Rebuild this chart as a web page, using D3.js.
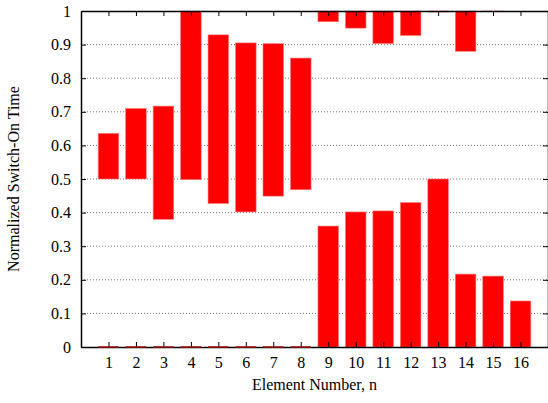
<!DOCTYPE html>
<html>
<head>
<meta charset="utf-8">
<script src="https://d3js.org/d3.v7.min.js"></script>
<style>
  body { margin: 0; background: #fff; }
</style>
</head>
<body>
<script>
// element numbers
var elements = [1, 2, 3, 4, 5, 6, 7, 8, 9, 10, 11, 12, 13, 14, 15, 16];

// lower box of each element (0 -> value)
var lowerTop = [0, 0, 0, 0, 0, 0, 0, 0, 0.36, 0.402, 0.405, 0.43, 0.5, 0.217, 0.211, 0.137];

// upper box of each element (from -> to)
var upperFrom = [0.5, 0.5, 0.38, 0.498, 0.427, 0.402, 0.449, 0.468, 0.968, 0.949, 0.903, 0.927, 0.997, 0.88, 0.998, 1.0];
var upperTo   = [0.636, 0.71, 0.717, 1.0, 0.929, 0.905, 0.903, 0.86, 1, 1, 1, 1, 1, 1, 1, 1];

var yTicks = [0, 0.1, 0.2, 0.3, 0.4, 0.5, 0.6, 0.7, 0.8, 0.9, 1];

var font = "'Liberation Serif', 'Times New Roman', serif";

// set the dimensions and margins of the graph
var margin = {top: 11, right: 0, bottom: 56, left: 81},
    width = 548 - margin.left - margin.right,
    height = 403 - margin.top - margin.bottom;

var svg = d3.select("body")
  .append("svg")
    .attr("width", 548)
    .attr("height", 403)
  .append("g")
    .attr("transform", "translate(" + margin.left + "," + margin.top + ")");

var x = d3.scaleLinear().domain([0, 17]).range([0, width]);
var y = d3.scaleLinear().domain([0, 1]).range([height, 0]);
var bw = x(0.75) - x(0);

// grid
svg.append("g")
  .selectAll("line")
  .data(yTicks.slice(1, -1))
  .enter()
  .append("line")
    .attr("x1", 0)
    .attr("x2", width)
    .attr("y1", d => y(d))
    .attr("y2", d => y(d))
    .attr("stroke", "#777")
    .attr("stroke-width", 1)
    .attr("stroke-dasharray", "1,2");

// boxes
var boxes = [];
elements.forEach(function (e, i) {
  boxes.push({n: e, lo: 0, hi: lowerTop[i]});
  boxes.push({n: e, lo: upperFrom[i], hi: upperTo[i]});
});

svg.selectAll("rect.box")
  .data(boxes.filter(d => d.hi - d.lo > 0))
  .enter()
  .append("rect")
    .attr("class", "box")
    .attr("x", d => x(d.n) - bw / 2)
    .attr("width", bw)
    .attr("y", d => y(d.hi))
    .attr("height", d => y(d.lo) - y(d.hi))
    .attr("fill", "#ff0000")
    .attr("stroke", "#ff8080")
    .attr("stroke-width", 0.6);

// axes (inward ticks, mirrored)
var xAxis = svg.append("g")
  .attr("transform", "translate(0," + height + ")")
  .call(d3.axisBottom(x).tickValues(elements).tickSizeInner(-5).tickSizeOuter(0).tickPadding(10).tickFormat(d3.format("d")));
var xTop = svg.append("g")
  .call(d3.axisTop(x).tickValues(elements).tickSizeInner(-5).tickSizeOuter(0).tickFormat(""));
var yAxis = svg.append("g")
  .call(d3.axisLeft(y).tickValues(yTicks).tickSizeInner(-5).tickSizeOuter(0).tickPadding(10).tickFormat(d => d === 0 || d === 1 ? d3.format("d")(d) : d3.format(".1f")(d)));
var yRight = svg.append("g")
  .attr("transform", "translate(" + width + ",0)")
  .call(d3.axisRight(y).tickValues(yTicks).tickSizeInner(-5).tickSizeOuter(0).tickFormat(""));

[xAxis, xTop, yAxis, yRight].forEach(function (g) {
  g.attr("font-family", font).attr("font-size", 16);
  g.select(".domain").attr("stroke", "#000").attr("stroke-width", 1.5);
  g.selectAll(".tick line").attr("stroke", "#000");
  g.selectAll("text").attr("fill", "#000");
});

// zero height boxes on the baseline
svg.selectAll("line.flat")
  .data(boxes.filter(d => d.hi === 0))
  .enter()
  .append("line")
    .attr("class", "flat")
    .attr("x1", d => x(d.n) - bw / 2)
    .attr("x2", d => x(d.n) + bw / 2)
    .attr("y1", d => y(d.hi))
    .attr("y2", d => y(d.hi))
    .attr("stroke", "#a01010")
    .attr("stroke-width", 1.5);

// labels
svg.append("text")
  .attr("x", width / 2)
  .attr("y", height + 43)
  .attr("text-anchor", "middle")
  .attr("font-family", font)
  .attr("font-size", 16)
  .attr("fill", "#000")
  .text("Element Number, n");

svg.append("text")
  .attr("transform", "translate(" + (-62) + "," + (height / 2) + ")rotate(-90)")
  .attr("text-anchor", "middle")
  .attr("font-family", font)
  .attr("font-size", 16)
  .attr("fill", "#000")
  .text("Normalized Switch-On Time");
</script>
</body>
</html>
